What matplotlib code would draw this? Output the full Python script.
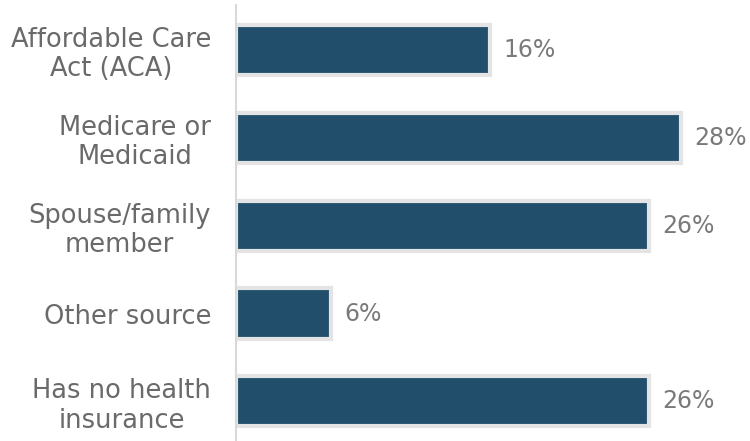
import matplotlib
matplotlib.use("Agg")
import matplotlib.pyplot as plt

categories = ["Affordable Care\nAct (ACA)", "Medicare or\nMedicaid", "Spouse/family\nmember", "Other source", "Has no health\ninsurance"]
values = [16, 28, 26, 6, 26]

plt.rcParams['font.family'] = ['DejaVu Sans']

fig = plt.figure(figsize=(7.5, 4.41), dpi=100)
ax = fig.add_axes([236/750, 0, 514/750, 436/441])
y = list(range(len(categories)))
ax.barh(y, values, height=0.57, color="#214e6b", edgecolor="#e4e4e4", linewidth=3)
ax.set_xlim(0, 514/15.9)
ax.set_ylim(4.45, -0.51)
for yi, v in zip(y, values):
    ax.text(v + 13/15.9, yi, f"{v}%", va="center", ha="left", fontsize=17, color="#7a7a7a")
ax.set_yticks(y)
ax.set_yticklabels(categories, fontsize=18.5, color="#6a6a6a", linespacing=1.18,
                   multialignment="center")
ax.tick_params(axis="y", length=0, pad=18)
ax.set_xticks([])
for s in ["top", "right", "bottom"]:
    ax.spines[s].set_visible(False)
ax.spines["left"].set_color("#d9d9d9")
ax.spines["left"].set_linewidth(1.5)
fig.savefig("out.png", dpi=100)
